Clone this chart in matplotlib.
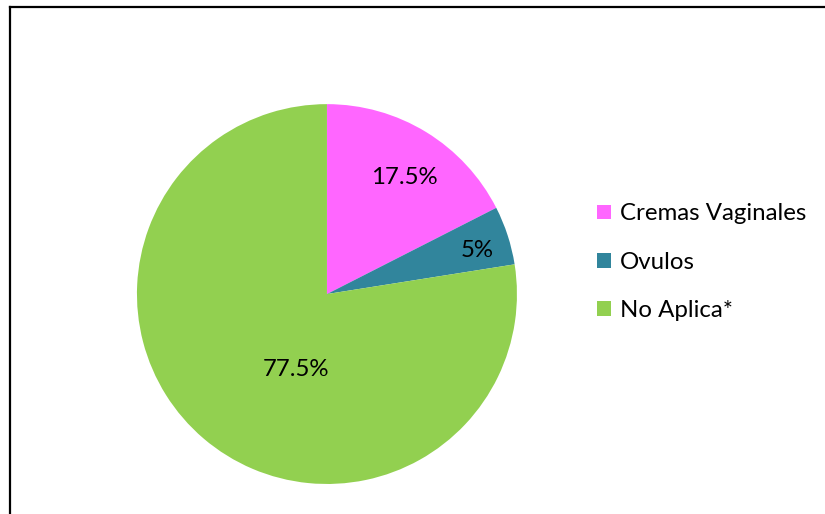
import matplotlib.pyplot as plt
import numpy as np
from matplotlib.patches import Patch
from matplotlib.lines import Line2D

plt.rcParams['font.family'] = ['Lato', 'DejaVu Sans']

categories = ['Cremas Vaginales', 'Ovulos', 'No Aplica*']
values = [17.5, 5, 77.5]
labels = ['17.5%', '5%', '77.5%']
colors = ['#FF66FF', '#31859C', '#92D050']
# where Excel placed each label (fraction of radius, angle offset from wedge mid)
label_r = [0.737, 0.823, 0.43]
label_shift = [-1.9, -1.7, 18.3]

fig = plt.figure(figsize=(8.25, 5.14), dpi=100)
ax = fig.add_axes([0.166, 0.0584, 0.4606, 0.739])
wedges, _ = ax.pie(values, colors=colors, startangle=90, counterclock=False,
                   radius=1, wedgeprops=dict(linewidth=0))
for w, lab, r, s in zip(wedges, labels, label_r, label_shift):
    mid = np.deg2rad((w.theta1 + w.theta2) / 2 + s)
    ax.text(r * np.cos(mid), r * np.sin(mid), lab, ha='center', va='center',
            fontsize=17.3, color='#000000')
ax.set_xlim(-1, 1)
ax.set_ylim(-1, 1)
ax.set_aspect('auto')
ax.axis('off')

handles = [Patch(facecolor=c, edgecolor='none') for c in colors]
fig.legend(handles, categories, loc='center left', bbox_to_anchor=(0.724, 0.490),
           frameon=False, fontsize=17.3, handlelength=0.58, handleheight=0.58,
           handletextpad=0.35, labelspacing=1.13, borderaxespad=0, borderpad=0)

# outer chart border (cut off at right and bottom)
x0 = 9.5 / 825
y0 = 1 - 6.5 / 514
fig.add_artist(Line2D([x0, x0], [y0, -0.01], color='black', lw=1.6, transform=fig.transFigure))
fig.add_artist(Line2D([x0, 1.01], [y0, y0], color='black', lw=1.6, transform=fig.transFigure))

fig.savefig('out.png', dpi=100, facecolor='white')
